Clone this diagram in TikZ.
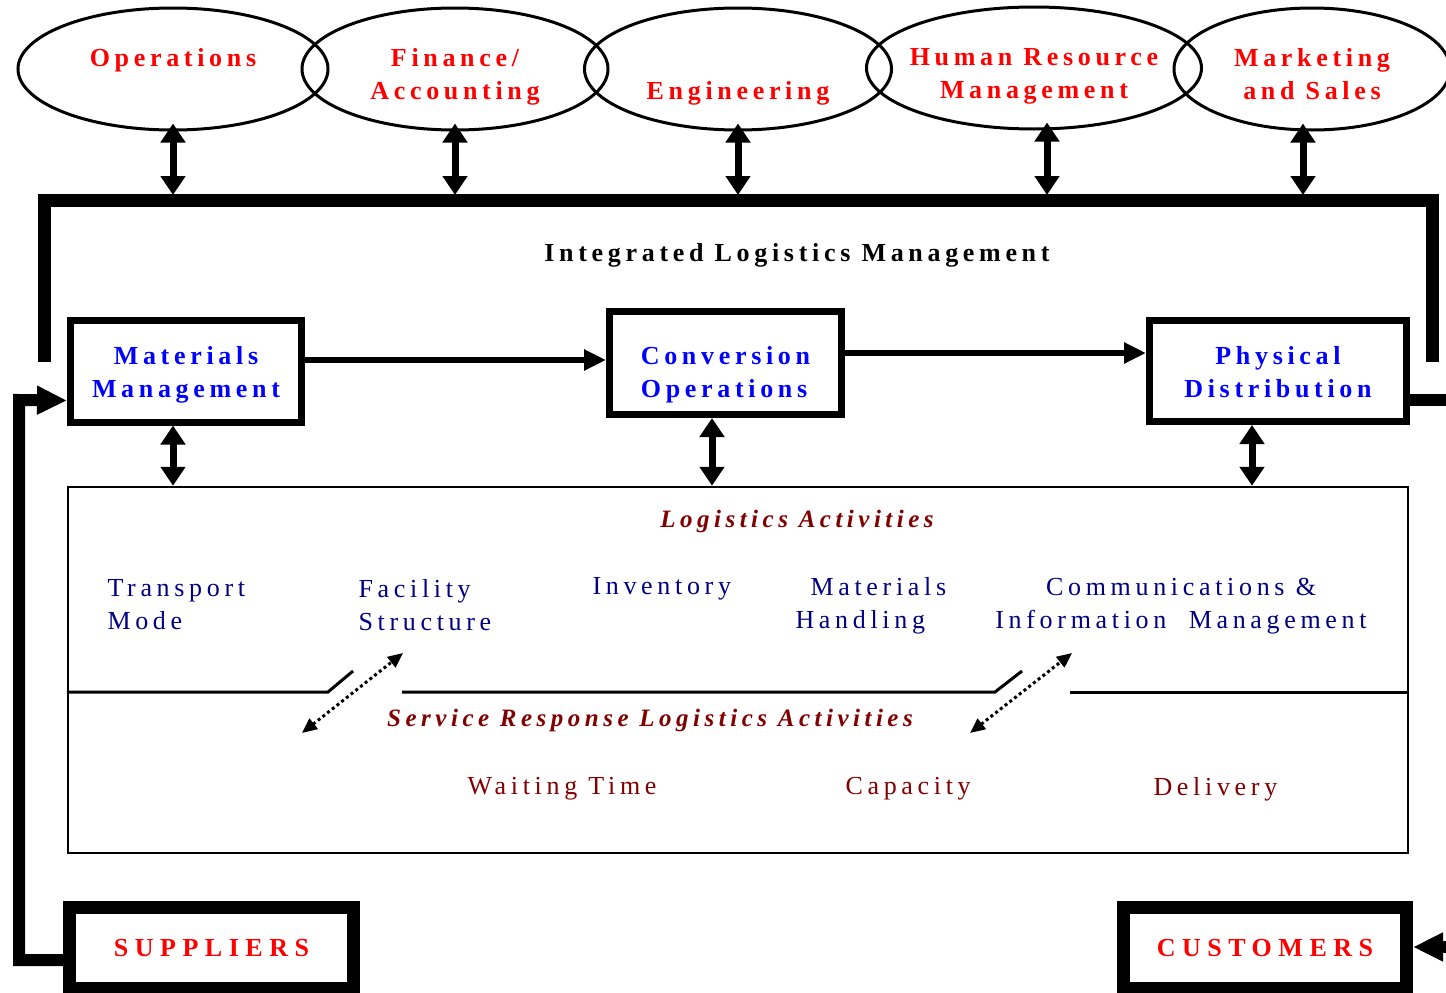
\documentclass[tikz,border=0pt]{standalone}
\usepackage{fontspec}
\setmainfont{Liberation Serif}
\newfontfamily\spc[LetterSpace=18]{Liberation Serif}
\newfontfamily\wide[LetterSpace=25]{Liberation Serif}
\newcommand\topgap[1]{\rule{0pt}{#1}}
\usetikzlibrary{shapes.geometric,arrows.meta}
\definecolor{navytext}{RGB}{0,0,128}
\definecolor{darkred}{RGB}{128,0,0}
\begin{document}
\begin{tikzpicture}[x=1pt,y=-1pt,
    dept/.style={ellipse,draw,line width=3pt,minimum width=310pt,minimum height=122pt,
        inner ysep=0pt,inner xsep=-40pt,align=center,text=red,
        font=\spc\bfseries\fontsize{26}{33}\selectfont},
    func/.style={draw,line width=7pt,inner sep=0pt,align=center,text=blue,
        font=\spc\bfseries\fontsize{26}{33}\selectfont},
    ext/.style={draw,line width=13pt,inner sep=0pt,text=red,minimum height=81pt,
        font=\wide\bfseries\fontsize{26}{30}\selectfont},
    item/.style={anchor=west,align=left,text=navytext,font=\spc\fontsize{26}{33}\selectfont},
    serv/.style={anchor=west,text=darkred,font=\spc\fontsize{26}{33}\selectfont},
    head/.style={text=darkred,font=\spc\bfseries\itshape\fontsize{25}{33}\selectfont},
    twoway/.style={{Triangle[length=19pt,width=24pt]}-{Triangle[length=19pt,width=24pt]},line width=7pt},
    flow/.style={-{Triangle[length=22pt,width=20pt]},line width=6pt},
    link/.style={-{Triangle[length=30pt,width=27pt]},line width=12pt,line join=miter},
    dotarrow/.style={{Triangle[length=15pt,width=13pt]}-{Triangle[length=15pt,width=13pt]},
        line width=3pt,dash pattern=on 3pt off 3pt},
    split/.style={line width=3pt}]
    \useasboundingbox (0,0) rectangle (1446,993);
    \clip (0,0) rectangle (1446,993);

    % functional areas
    \node[dept] (ops) at (173,69) {\topgap{37pt}Operations\\\strut};
    \node[dept,minimum width=306pt] (fin) at (455,69) {\topgap{37pt}Finance/\\Accounting\strut};
    \node[dept,minimum width=307pt] (eng) at (738,69) {\topgap{37pt}\\Engineering\strut};
    \node[dept,minimum width=335pt] (hrm) at (1034,68) {\topgap{37pt}Human Resource\\Management\strut};
    \node[dept,minimum width=276pt] (mkt) at (1312,69) {\topgap{37pt}Marketing\\and Sales\strut};

    \draw[line width=13pt] (44,362) -- (44,200) -- (1432,200) -- (1432,362);
    \coordinate (bar) at (0,195);
    \foreach \d/\s in {ops/0,fin/0,eng/0,hrm/13,mkt/-9}{
        \path ([xshift=\s pt,yshift=8pt]\d.south) coordinate (up\d);
        \draw[twoway] (up\d) -- (up\d |- bar);
    }
    \node[font=\spc\bfseries\fontsize{26}{33}\selectfont] (ilm) at (797,255)
        {Integrated Logistics Management};

    % logistics chain
    \node[func,minimum width=231pt,minimum height=102pt] (mm) at (186,371)
        {\topgap{29pt}Materials\\Management\strut};
    \node[func,minimum width=232pt,minimum height=103pt,align=left] (co) at (725.5,363)
        {\topgap{45pt}Conversion\\Operations\strut};
    \node[func,minimum width=257pt,minimum height=101pt] (pd) at (1278,371)
        {\topgap{29pt}Physical\\Distribution\strut};
    \draw[flow] (mm.east |- 0,360) -- (co.west |- 0,360);
    \draw[flow] (co.east |- 0,353) -- (pd.west |- 0,353);

    % activities
    \node[draw,line width=2.5pt,minimum width=1340pt,minimum height=366pt] (act) at (738,670) {};
    \foreach \b/\s in {mm/-13,co/-13.5,pd/-26}{
        \path ([xshift=\s pt]\b.south) coordinate (top\b);
        \draw[twoway] (top\b) -- (top\b |- act.north);
    }
    \node[head] (la) at (797,521) {Logistics Activities};
    \node[item] (tm) at (104,605) {Transport\\Mode};
    \node[item] (fs) at (355,605) {Facility\\Structure};
    \node[item] (inv) at (589,589) {Inventory};
    \node[item] (mh) at (792,606) {\hspace*{15pt}Materials\\Handling};
    \node[item,anchor=center,align=center] (cim) at (1181,606)
        {Communications \&\\Information\ \ Management};

    \draw[split] (act.west |- 0,692) -- (328,692) -- (353,671);
    \draw[split] (402,692) -- (995,692) -- (1022,671);
    \draw[split] (1070,692) -- (act.east |- 0,692);
    \coordinate (d1a) at (302,733); \coordinate (d1b) at (403,653);
    \coordinate (d2a) at (970,733); \coordinate (d2b) at (1072,653);
    \draw[dotarrow] (d1a) -- (d1b);
    \draw[dotarrow] (d2a) -- (d2b);

    \node[head] (srla) at (650,720) {Service Response Logistics Activities};
    \node[serv] (wt) at (464,789) {Waiting Time};
    \node[serv] (cap) at (842,789) {Capacity};
    \node[serv] (del) at (1150,789) {Delivery};

    % suppliers and customers
    \node[ext,minimum width=284pt] (sup) at (211.5,948) {SUPPLIERS};
    \node[ext,minimum width=283pt] (cus) at (1265,948) {CUSTOMERS};
    \draw[link] ([yshift=-12pt]sup.west) -| (19,400) -- ([yshift=-29.5pt]mm.west);
    \draw[link] ([yshift=-29pt]pd.east) -- (1475,400) |- ([yshift=1pt]cus.east);

\end{tikzpicture}
\end{document}
